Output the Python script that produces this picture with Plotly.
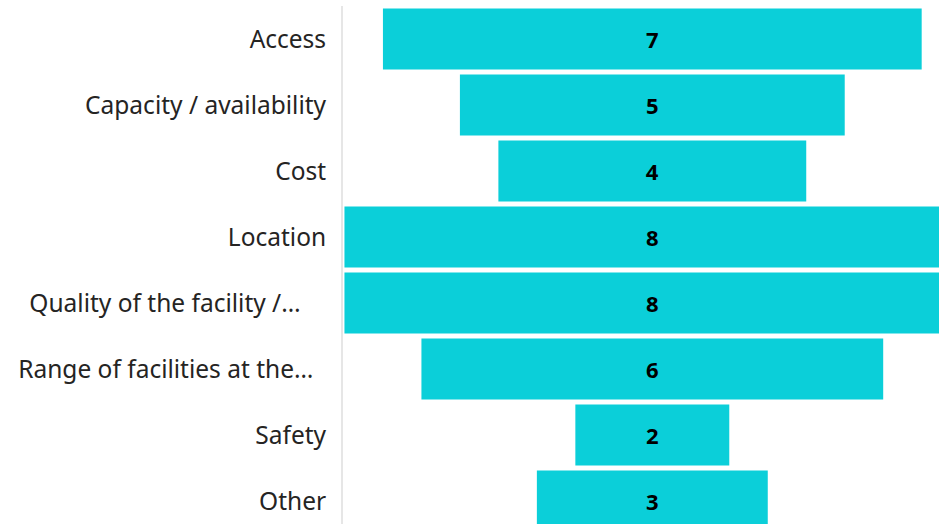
import plotly.graph_objects as go

categories = ["Access", "Capacity / availability", "Cost", "Location",
              "Quality of the facility /\u2026", "Range of facilities at the\u2026",
              "Safety", "Other"]
tick_text = ["Access", "Capacity / availability", "Cost", "Location",
             "Quality of the facility /\u2026\u00a0\u00a0\u00a0\u00a0",
             "Range of facilities at the\u2026\u00a0\u00a0",
             "Safety", "Other"]
values = [7, 5, 4, 8, 8, 6, 2, 3]

BAR = "#0BCFD9"
FONT = "Noto Sans, Open Sans, sans-serif"

fig = go.Figure(go.Funnel(
    y=categories,
    x=values,
    text=[str(v) for v in values],
    textinfo="text",
    textposition="inside",
    insidetextanchor="middle",
    textfont=dict(family=FONT, size=22, color="#000000", weight="bold"),
    marker=dict(color=BAR, line=dict(width=0)),
    connector=dict(visible=False),
))

fig.update_layout(
    width=939, height=524,
    margin=dict(l=343, r=0, t=6, b=0),
    paper_bgcolor="white", plot_bgcolor="white",
    showlegend=False,
    funnelgap=0.076,
    uniformtext=dict(minsize=8, mode="show"),
    font=dict(family=FONT, color="#252423"),
)
fig.update_xaxes(range=[-4.019, 3.725], visible=False, fixedrange=True)
fig.update_yaxes(
    range=[7.3485, -0.5], autorange=False, fixedrange=True,
    tickmode="array", tickvals=categories, ticktext=tick_text,
    tickfont=dict(family=FONT, size=24.5, color="#252423"),
    showline=True, linecolor="#E6E6E6", linewidth=2,
    showgrid=False, zeroline=False,
    ticks="", ticklabelstandoff=10,
)

fig.write_html("out.html",
               config={"displayModeBar": False},
               post_script="document.body.style.margin='0';document.body.style.overflow='hidden';")
